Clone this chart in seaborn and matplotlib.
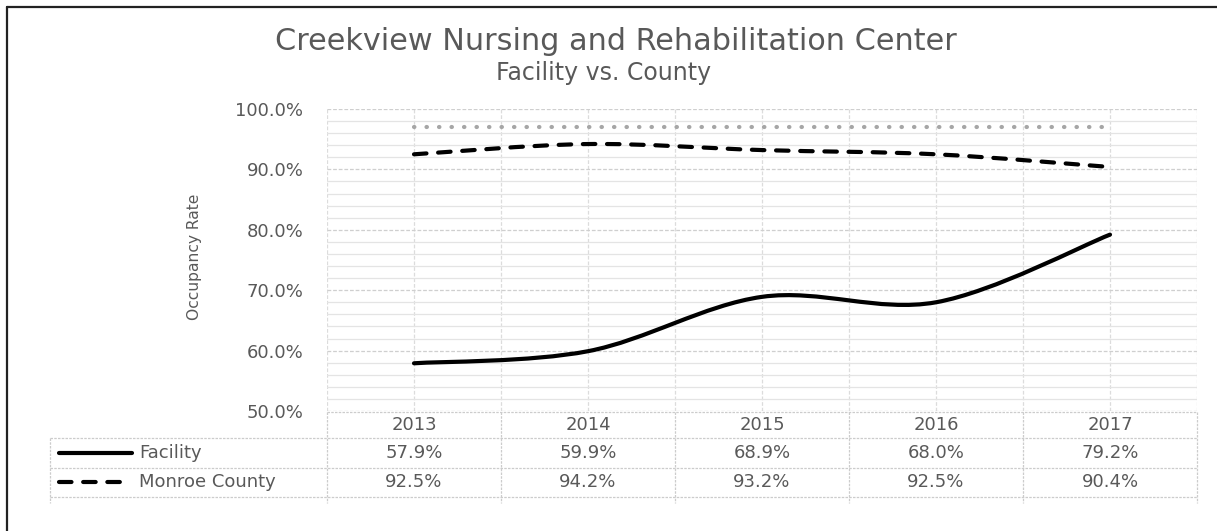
import numpy as np
import pandas as pd
import matplotlib
matplotlib.use("Agg")
import matplotlib.pyplot as plt
import seaborn as sns
from matplotlib.path import Path
from matplotlib.patches import PathPatch
from matplotlib.lines import Line2D
from matplotlib.ticker import MultipleLocator, FuncFormatter

# data
years = ["2013", "2014", "2015", "2016", "2017"]
facility = [57.9, 59.9, 68.9, 68.0, 79.2]
county = [92.5, 94.2, 93.2, 92.5, 90.4]
benchmark = [97.0, 97.0, 97.0, 97.0, 97.0]

sns.set_style("white")
plt.rcParams['font.family'] = ['DejaVu Sans']

GREY = "#595959"
W, H = 1217, 531


def smooth_path(xs, ys):
    # excel-like smoothed line: bezier segments with catmull-rom tangents
    pts = list(zip(xs, ys))
    n = len(pts)
    verts = [pts[0]]
    codes = [Path.MOVETO]
    for i in range(n - 1):
        p0 = pts[max(i - 1, 0)]
        p1 = pts[i]
        p2 = pts[i + 1]
        p3 = pts[min(i + 2, n - 1)]
        c1 = (p1[0] + (p2[0] - p0[0]) / 6, p1[1] + (p2[1] - p0[1]) / 6)
        c2 = (p2[0] - (p3[0] - p1[0]) / 6, p2[1] - (p3[1] - p1[1]) / 6)
        verts += [c1, c2, p2]
        codes += [Path.CURVE4] * 3
    return Path(verts, codes)


df = pd.DataFrame({"idx": np.arange(len(years)), "year": years,
                   "Facility": facility, "Monroe County": county,
                   "Benchmark": benchmark})

fig = plt.figure(figsize=(W / 100, H / 100), dpi=100)
ax = fig.add_axes([327 / W, 1 - 411 / H, 870 / W, 302 / H])

# plot area in px, used to place the data table
PX0, PXW = 327, 870 / len(years)
AY0, AYH = 411, 302


def fx(px):
    return -0.5 + (px - PX0) / PXW


def fy(py):
    return (AY0 - py) / AYH


sns.lineplot(data=df, x="idx", y="Benchmark", ax=ax, color="#a6a6a6", lw=3.0,
             linestyle=(0, (0.1, 2.9)), dash_capstyle="round")

ax.add_patch(PathPatch(smooth_path(df["idx"], df["Facility"]), fill=False,
                       edgecolor="black", lw=3, capstyle="round", zorder=3))
ax.add_patch(PathPatch(smooth_path(df["idx"], df["Monroe County"]), fill=False,
                       edgecolor="black", lw=3, capstyle="round",
                       ls=(0, (3, 2.8)), zorder=3))

ax.set_xlim(-0.5, len(years) - 0.5)
ax.set_ylim(50, 100)
ax.yaxis.set_major_locator(MultipleLocator(10))
ax.yaxis.set_minor_locator(MultipleLocator(2))
ax.yaxis.set_major_formatter(FuncFormatter(lambda v, p: f"{v:.1f}%"))
ax.set_xticks([])
ax.xaxis.set_minor_locator(MultipleLocator(0.5))
ax.grid(which="major", axis="y", color="#cfcfcf", lw=0.9, ls=(0, (3, 1.5)))
ax.grid(which="minor", axis="y", color="#e4e4e4", lw=0.9)
ax.grid(which="minor", axis="x", color="#dcdcdc", lw=0.9, ls=(0, (3, 1.5)))
ax.tick_params(axis="y", which="both", length=0, pad=17, labelsize=13,
               labelcolor=GREY)
ax.tick_params(axis="x", which="both", length=0)
for s in ax.spines.values():
    s.set_visible(False)
ax.set_xlabel("")
ax.set_ylabel("")

# data table under the plot
tr = ax.get_xaxis_transform()
tline = dict(color="#cccccc", lw=0.9, ls=(0, (2, 1)), transform=tr,
             clip_on=False)
rows_px = [412, 438, 468, 497]
right = fx(1197)
ax.plot([fx(327), right], [fy(412)] * 2, **tline)
for py in rows_px[1:]:
    ax.plot([fx(50), right], [fy(py)] * 2, **tline)
for k in range(len(years) + 1):
    ax.plot([fx(327) + k, fx(327) + k], [fy(412), fy(503)], **tline)
ax.plot([fx(50)] * 2, [fy(438), fy(503)], **tline)

for i, yr in enumerate(years):
    ax.text(i, fy(425), yr, transform=tr, ha="center", va="center",
            fontsize=13, color=GREY)
    ax.text(i, fy(453), f"{facility[i]:.1f}%", transform=tr, ha="center",
            va="center", fontsize=13, color=GREY)
    ax.text(i, fy(482), f"{county[i]:.1f}%", transform=tr, ha="center",
            va="center", fontsize=13, color=GREY)

ax.plot([fx(59), fx(132)], [fy(453)] * 2, color="black", lw=3,
        solid_capstyle="round", transform=tr, clip_on=False)
ax.text(fx(139), fy(453), "Facility", transform=tr, ha="left", va="center",
        fontsize=13, color=GREY)
ax.plot([fx(59), fx(124)], [fy(482)] * 2, color="black", lw=3,
        ls=(0, (3, 2.8)), dash_capstyle="round", transform=tr, clip_on=False)
ax.text(fx(139), fy(482), "Monroe County", transform=tr, ha="left",
        va="center", fontsize=13, color=GREY)

# titles and axis label
fig.text(616 / W, 1 - 50 / H, "Creekview Nursing and Rehabilitation Center",
         ha="center", va="baseline", fontsize=21.8, color=GREY)
fig.text(604 / W, 1 - 80 / H, "Facility vs. County", ha="center",
         va="baseline", fontsize=17, color=GREY)
fig.text(195 / W, 1 - 257 / H, "Occupancy Rate", rotation=90, ha="center",
         va="center", fontsize=11.2, color=GREY)

# outer chart frame (left and top edges visible)
fig.add_artist(Line2D([7 / W, 7 / W], [0, 1 - 7 / H], color="#222222", lw=1.6))
fig.add_artist(Line2D([7 / W, 1], [1 - 7 / H, 1 - 7 / H], color="#222222",
                      lw=1.6))

fig.savefig("out.png", dpi=100)
